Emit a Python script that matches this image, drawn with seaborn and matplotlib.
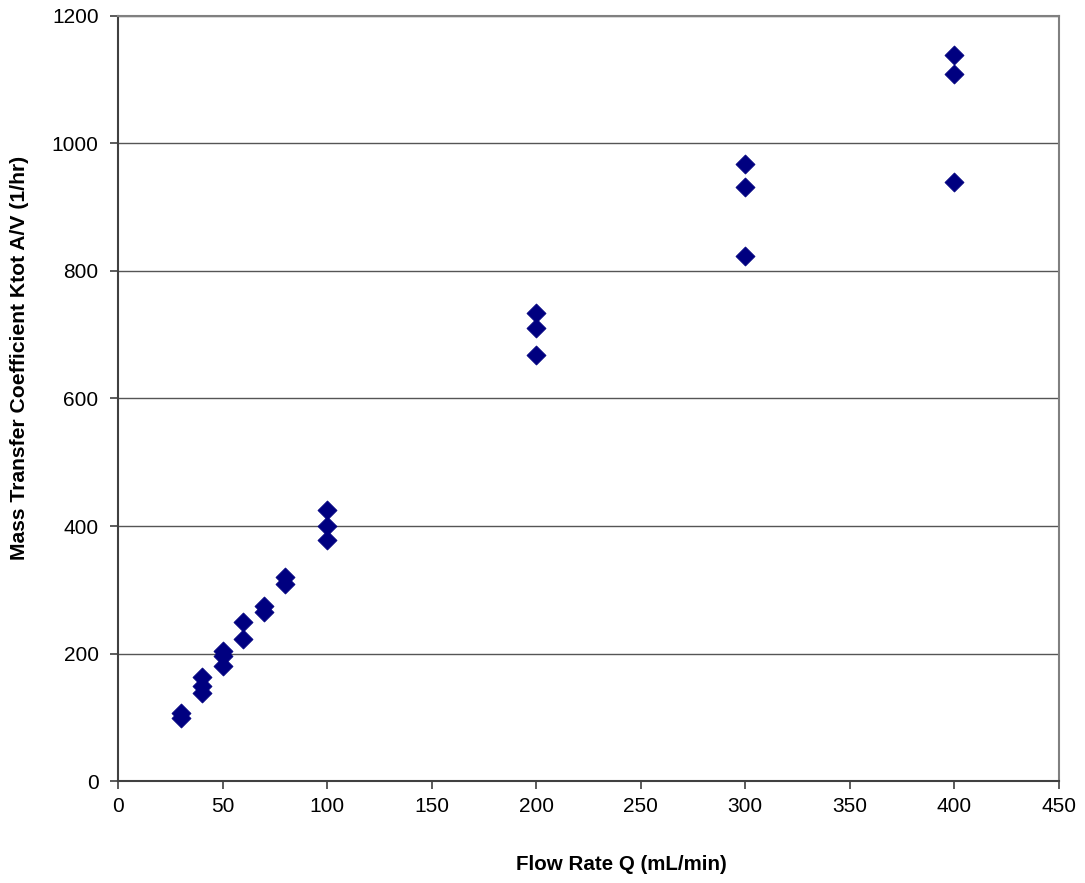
import matplotlib
matplotlib.use("Agg")
import matplotlib.pyplot as plt
import seaborn as sns
import pandas as pd

# Flow rate (mL/min) and measured mass transfer coefficient (1/hr)
flow_rate = [30, 30,
             40, 40, 40,
             50, 50, 50,
             60, 60,
             70, 70,
             80, 80,
             100, 100, 100,
             200, 200, 200,
             300, 300, 300,
             400, 400, 400]
k_tot = [108, 100,
         164, 150, 138,
         204, 196, 181,
         250, 223,
         275, 265,
         320, 310,
         426, 400, 378,
         734, 710, 668,
         968, 932, 824,
         1138, 1109, 939]

x_ticks = [0, 50, 100, 150, 200, 250, 300, 350, 400, 450]
y_ticks = [0, 200, 400, 600, 800, 1000, 1200]

df = pd.DataFrame({"Q": flow_rate, "K": k_tot})

sns.set_theme(style="white")
plt.rcParams["font.family"] = ["Liberation Sans", "DejaVu Sans"]

fig = plt.figure(figsize=(10.85, 8.83), dpi=100)
ax = fig.add_axes([0.1088, 0.1150, 0.8668, 0.8674])

ax.set_xlim(0, 450)
ax.set_ylim(0, 1200)
ax.set_xticks(x_ticks)
ax.set_yticks(y_ticks)

# horizontal gridlines
for y in y_ticks[1:]:
    ax.axhline(y, color="#555555", lw=1.0, zorder=1)

sns.scatterplot(data=df, x="Q", y="K", ax=ax, marker="D", s=95,
                color="#000080", edgecolor="#000080", linewidth=0.5,
                zorder=3, legend=False)

for side in ["top", "right"]:
    ax.spines[side].set_color("#808080")
    ax.spines[side].set_linewidth(1.5)
for side in ["left", "bottom"]:
    ax.spines[side].set_color("#404040")
    ax.spines[side].set_linewidth(1.5)

ax.tick_params(axis="both", which="major", direction="out", length=6,
               width=1.2, color="#404040", labelsize=15, labelcolor="black",
               bottom=True, left=True)
ax.tick_params(axis="y", pad=8)
ax.tick_params(axis="x", pad=5)

ax.set_xlabel("Flow Rate Q (mL/min)", fontsize=14.8, fontweight="bold",
              color="black")
ax.set_ylabel("Mass Transfer Coefficient Ktot A/V (1/hr)", fontsize=15.2,
              fontweight="bold", color="black")
ax.xaxis.set_label_coords(0.5356, -0.0965)
ax.yaxis.set_label_coords(-0.0945, 0.5525)

fig.savefig("out.png", dpi=100, facecolor="white")
